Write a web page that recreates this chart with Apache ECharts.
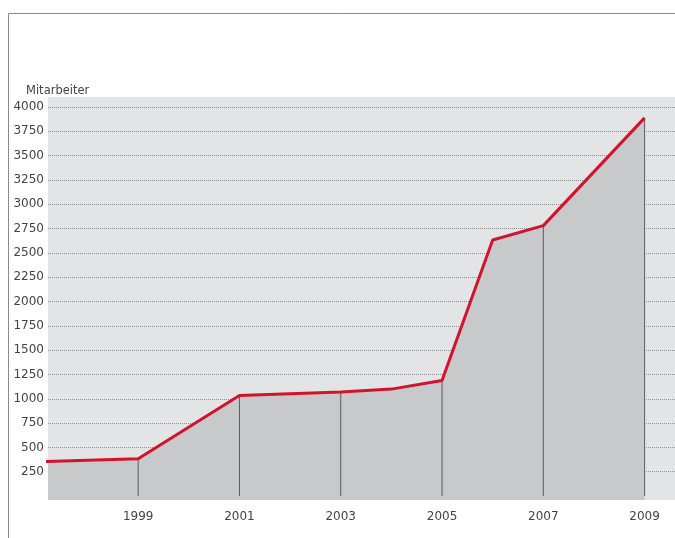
<!DOCTYPE html>
<html>
<head>
<meta charset="utf-8">
<script src="https://cdn.jsdelivr.net/npm/echarts@6/dist/echarts.min.js"></script>
<style>html,body{margin:0;padding:0;background:#fff}#c{width:675px;height:538px}</style>
</head>
<body>
<div id="c"></div>
<script>
// Data
var years = [1997, 1999, 2001, 2003, 2004, 2005, 2006, 2007, 2009];
var employees = [353, 383, 1034, 1069, 1099, 1188, 2633, 2780, 3888];
var dropYears = [1999, 2001, 2003, 2005, 2007, 2009];
var dropValues = [383, 1034, 1069, 1188, 2780, 3888];
var xTickLabels = [1999, 2001, 2003, 2005, 2007, 2009];
var yAxisTitle = 'Mitarbeiter';

var FONT = 'DejaVu Sans';
var chart = echarts.init(document.getElementById('c'), null, {renderer: 'canvas'});

var lineData = years.map(function (y, i) { return [y, employees[i]]; });
var dropData = dropYears.map(function (y, i) { return [y, dropValues[i]]; });

chart.setOption({
  animation: false,
  backgroundColor: '#ffffff',
  title: {
    text: yAxisTitle, left: 21, top: 80,
    textStyle: {fontFamily: FONT, fontSize: 11.5, fontWeight: 'normal', color: '#444'}
  },
  grid: {left: 48, right: 0, top: 107, bottom: 42},
  xAxis: {
    type: 'value', min: 1997.22, max: 2009.6,
    axisLine: {show: false}, axisTick: {show: false}, splitLine: {show: false},
    axisLabel: {
      customValues: xTickLabels, margin: 15,
      fontFamily: FONT, fontSize: 12, color: '#444',
      formatter: function (v) { return String(v); }
    }
  },
  yAxis: {
    type: 'value', min: 0, max: 4000, interval: 250,
    axisLine: {show: false}, axisTick: {show: false},
    axisLabel: {
      margin: 4, fontFamily: FONT, fontSize: 12, color: '#444',
      formatter: function (v) { return v === 0 ? '' : String(v); }
    },
    splitLine: {show: true, showMinLine: false, lineStyle: {color: '#8e9093', type: [1, 1], width: 1}}
  },
  series: [
    {
      type: 'line', data: lineData, symbol: 'none', clip: true, z: 1,
      lineStyle: {width: 0},
      areaStyle: {color: '#c7c9cb', opacity: 1}
    },
    {
      type: 'bar', data: dropData, barWidth: 1, z: 2,
      itemStyle: {color: '#5a5b5d'}
    },
    {
      type: 'line', data: lineData, symbol: 'none', clip: true, z: 3,
      lineStyle: {color: '#d2132c', width: 3}
    }
  ]
});

var x2009 = chart.convertToPixel({gridIndex: 0}, [2009, 0]);
chart.setOption({
  graphic: {elements: [
    {type: 'rect', z: -10, silent: true, shape: {x: 48, y: 97, width: 627, height: 403}, style: {fill: '#e2e4e6'}},
    {type: 'rect', z: -5, silent: true, shape: {x: 48, y: x2009[1], width: x2009[0] - 48, height: 500 - x2009[1]}, style: {fill: '#c7c9cb'}},
    {type: 'line', z: 10, silent: true, shape: {x1: 8.5, y1: 13.5, x2: 675, y2: 13.5}, style: {stroke: '#8a8a8a', lineWidth: 1}},
    {type: 'line', z: 10, silent: true, shape: {x1: 8.5, y1: 13.5, x2: 8.5, y2: 538}, style: {stroke: '#8a8a8a', lineWidth: 1}}
  ]}
});
</script>
</body>
</html>
